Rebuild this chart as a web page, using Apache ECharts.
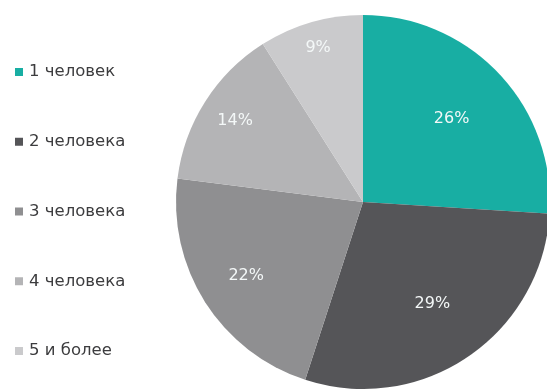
<!DOCTYPE html>
<html>
<head>
<meta charset="utf-8">
<script src="https://cdn.jsdelivr.net/npm/echarts@6/dist/echarts.min.js"></script>
<style>
  html, body { margin: 0; padding: 0; background: #ffffff; }
  #chart { width: 547px; height: 389px; }
</style>
</head>
<body>
<div id="chart"></div>
<script>
// Household size shares, percent
const categories = ['1 человек', '2 человека', '3 человека', '4 человека', '5 и более'];
const shares = [26, 29, 22, 14, 9];
const sliceColors = ['#18aea3', '#555558', '#8f8f91', '#b4b4b6', '#cacacc'];
// how far out each percentage label sits, as a fraction of the radius
const labelReach = [0.65, 0.66, 0.74, 0.81, 0.86];

const CX = 363, CY = 202, R = 187;

const chart = echarts.init(document.getElementById('chart'));

chart.setOption({
  animation: false,
  legend: {
    orient: 'vertical',
    left: 10,
    top: 58,
    icon: 'rect',
    itemWidth: 8,
    itemHeight: 8,
    itemGap: 51.75,
    selectedMode: false,
    textStyle: {
      fontFamily: 'DejaVu Sans',
      fontSize: 16.5,
      lineHeight: 18,
      color: '#3c3c3e',
      padding: [0, 0, 0, 1]
    },
    data: categories
  },
  series: [
    {
      type: 'pie',
      center: [CX, CY],
      radius: [0, R],
      startAngle: 90,
      clockwise: true,
      silent: true,
      label: {
        show: true,
        position: 'inside',
        formatter: '{c}%',
        fontFamily: 'DejaVu Sans',
        fontSize: 16,
        color: '#f4f8f8'
      },
      labelLine: { show: false },
      // push each label outward along its slice's bisector
      labelLayout: function (params) {
        const rect = params.labelRect;
        const lx = rect.x + rect.width / 2;
        const ly = rect.y + rect.height / 2;
        const dx = lx - CX, dy = ly - CY;
        const d = Math.hypot(dx, dy) || 1;
        const k = labelReach[params.dataIndex] * R / d;
        return { x: CX + dx * k, y: CY + dy * k, align: 'center', verticalAlign: 'middle' };
      },
      data: categories.map((name, i) => ({
        name: name,
        value: shares[i],
        itemStyle: { color: sliceColors[i] }
      }))
    }
  ]
});
</script>
</body>
</html>
